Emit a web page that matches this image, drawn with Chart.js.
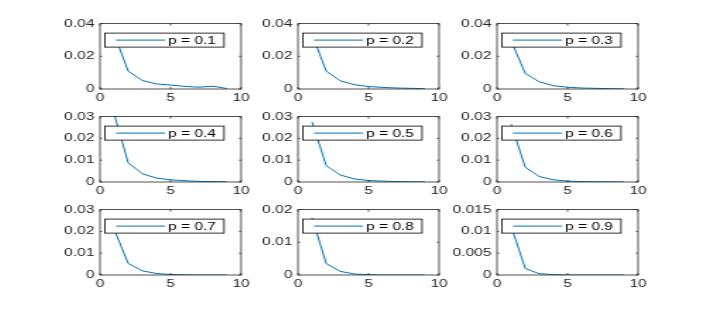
<!DOCTYPE html>
<html>
<head>
<meta charset="utf-8">
<script src="https://cdn.jsdelivr.net/npm/chart.js@4/dist/chart.umd.min.js"></script>
<style>
    html, body { margin: 0; padding: 0; background: #fff; }
    #page { position: relative; width: 706px; height: 310px; overflow: hidden; background: #fff; }
    .panel { position: absolute; transform-origin: 0 0; }
    .panel canvas { position: absolute; }
</style>
</head>
<body>
<div id="page"></div>
<script>
// x positions shared by every panel
const xValues = [1, 2, 3, 4, 5, 6, 7, 8, 9];

const labels = ['p = 0.1', 'p = 0.2', 'p = 0.3', 'p = 0.4', 'p = 0.5', 'p = 0.6', 'p = 0.7', 'p = 0.8', 'p = 0.9'];

const seriesP01 = [0.0335, 0.0109, 0.0052, 0.0031, 0.0024, 0.0016, 0.0011, 0.0017, 0.0003];
const seriesP02 = [0.0334, 0.0109, 0.0050, 0.0026, 0.0015, 0.0010, 0.0006, 0.0004, 0.0002];
const seriesP03 = [0.0295, 0.0095, 0.0044, 0.0020, 0.0011, 0.0006, 0.0004, 0.0002, 0.0001];
const seriesP04 = [0.0313, 0.0088, 0.0038, 0.0018, 0.0010, 0.0006, 0.0003, 0.0002, 0.0001];
const seriesP05 = [0.0275, 0.0075, 0.0032, 0.0014, 0.0007, 0.0004, 0.0002, 0.0001, 0.0001];
const seriesP06 = [0.0265, 0.0068, 0.0025, 0.0010, 0.0004, 0.0002, 0.0001, 0.0001, 0.0000];
const seriesP07 = [0.0210, 0.0053, 0.0019, 0.0007, 0.0002, 0.0001, 0.0000, 0.0000, 0.0000];
const seriesP08 = [0.0175, 0.0035, 0.0011, 0.0003, 0.0001, 0.0000, 0.0000, 0.0000, 0.0000];
const seriesP09 = [0.0112, 0.0015, 0.0003, 0.0001, 0.0000, 0.0000, 0.0000, 0.0000, 0.0000];

const allSeries = [seriesP01, seriesP02, seriesP03, seriesP04, seriesP05, seriesP06, seriesP07, seriesP08, seriesP09];

// y axis limits / tick step per panel
const yMax = [0.04, 0.04, 0.04, 0.03, 0.03, 0.03, 0.03, 0.02, 0.015];
const yStep = [0.02, 0.02, 0.02, 0.01, 0.01, 0.01, 0.01, 0.01, 0.005];
const xMax = 10;
const xStep = 5;

// layout of the 3x3 grid (page pixels)
const colLeft = [100, 298, 497];
const rowTop = [23, 116, 209];
const plotW = 141;
const plotH = 66;
const stretch = 1.41; // figure is stretched horizontally
const leftSpace = 36;
const rightSpace = 10;
const topSpace = 10;
const bottomSpace = 22;

const lineColor = '#0072BD';
const axisColor = '#262626';
const fontFamily = '"Liberation Sans", Arial, Helvetica, sans-serif';

const boxPlugin = {
    id: 'matlabBox',
    afterDatasetsDraw(chart) {
        const ctx = chart.ctx;
        const a = chart.chartArea;
        const ds = chart.data.datasets[0];

        // legend box
        const lx = a.left + 5 / stretch;
        const ly = a.top + 9.5;
        const lw = 119 / stretch;
        const lh = 14;
        ctx.save();
        ctx.fillStyle = '#fff';
        ctx.fillRect(lx, ly, lw, lh);
        ctx.strokeStyle = '#000';
        ctx.lineWidth = 0.8;
        ctx.strokeRect(lx, ly, lw, lh);
        ctx.strokeStyle = ds.borderColor;
        ctx.lineWidth = 1;
        ctx.beginPath();
        ctx.moveTo(lx + 11 / stretch, ly + lh / 2);
        ctx.lineTo(lx + 60 / stretch, ly + lh / 2);
        ctx.stroke();
        ctx.fillStyle = '#000';
        ctx.font = '11px ' + fontFamily;
        ctx.textBaseline = 'middle';
        ctx.textAlign = 'left';
        ctx.fillText(ds.label, lx + 63 / stretch, ly + lh / 2 + 0.5);

        // axes box and inward ticks
        ctx.strokeStyle = axisColor;
        ctx.lineWidth = 0.8;
        ctx.strokeRect(a.left, a.top, a.right - a.left, a.bottom - a.top);
        const xs = chart.scales.x;
        const ys = chart.scales.y;
        ctx.beginPath();
        xs.ticks.forEach(t => {
            const px = xs.getPixelForValue(t.value);
            ctx.moveTo(px, a.bottom); ctx.lineTo(px, a.bottom - 2);
            ctx.moveTo(px, a.top); ctx.lineTo(px, a.top + 2);
        });
        ys.ticks.forEach(t => {
            const py = ys.getPixelForValue(t.value);
            ctx.moveTo(a.left, py); ctx.lineTo(a.left + 1.5, py);
            ctx.moveTo(a.right, py); ctx.lineTo(a.right - 1.5, py);
        });
        ctx.stroke();
        ctx.restore();
    }
};

function drawPanel(i) {
    const col = i % 3;
    const row = Math.floor(i / 3);
    const innerW = Math.round(plotW / stretch);
    const cw = leftSpace + innerW + rightSpace;
    const ch = topSpace + plotH + bottomSpace;

    const wrap = document.createElement('div');
    wrap.className = 'panel';
    wrap.style.left = colLeft[col] + 'px';
    wrap.style.top = (rowTop[row] - topSpace) + 'px';
    wrap.style.transform = `scaleX(${stretch})`;

    const canvas = document.createElement('canvas');
    canvas.width = cw;
    canvas.height = ch;
    canvas.style.left = (-leftSpace) + 'px';
    canvas.style.top = '0px';
    canvas.style.width = cw + 'px';
    canvas.style.height = ch + 'px';
    wrap.appendChild(canvas);
    document.getElementById('page').appendChild(wrap);

    const points = xValues.map((x, k) => ({ x: x, y: allSeries[i][k] }));

    new Chart(canvas, {
        type: 'line',
        data: {
            datasets: [{
                label: labels[i],
                data: points,
                borderColor: lineColor,
                borderWidth: 1,
                pointRadius: 0,
                tension: 0,
                fill: false
            }]
        },
        options: {
            responsive: false,
            animation: false,
            devicePixelRatio: 1,
            layout: { padding: { top: topSpace, right: rightSpace, left: 0, bottom: 0 } },
            plugins: { legend: { display: false }, tooltip: { enabled: false } },
            scales: {
                x: {
                    type: 'linear',
                    min: 0,
                    max: xMax,
                    grid: { display: false, drawTicks: false },
                    border: { display: false },
                    ticks: {
                        stepSize: xStep,
                        padding: 2,
                        maxRotation: 0,
                        color: axisColor,
                        font: { family: fontFamily, size: 11 }
                    },
                    afterFit: s => { s.height = bottomSpace; }
                },
                y: {
                    min: 0,
                    max: yMax[i],
                    grid: { display: false, drawTicks: false },
                    border: { display: false },
                    ticks: {
                        stepSize: yStep[i],
                        padding: 4,
                        color: axisColor,
                        font: { family: fontFamily, size: 11 },
                        callback: v => String(parseFloat(v.toFixed(4)))
                    },
                    afterFit: s => { s.width = leftSpace; }
                }
            }
        },
        plugins: [boxPlugin]
    });
}

document.addEventListener('DOMContentLoaded', () => {
    for (let i = 0; i < 9; i++) drawPanel(i);
});
</script>
</body>
</html>
